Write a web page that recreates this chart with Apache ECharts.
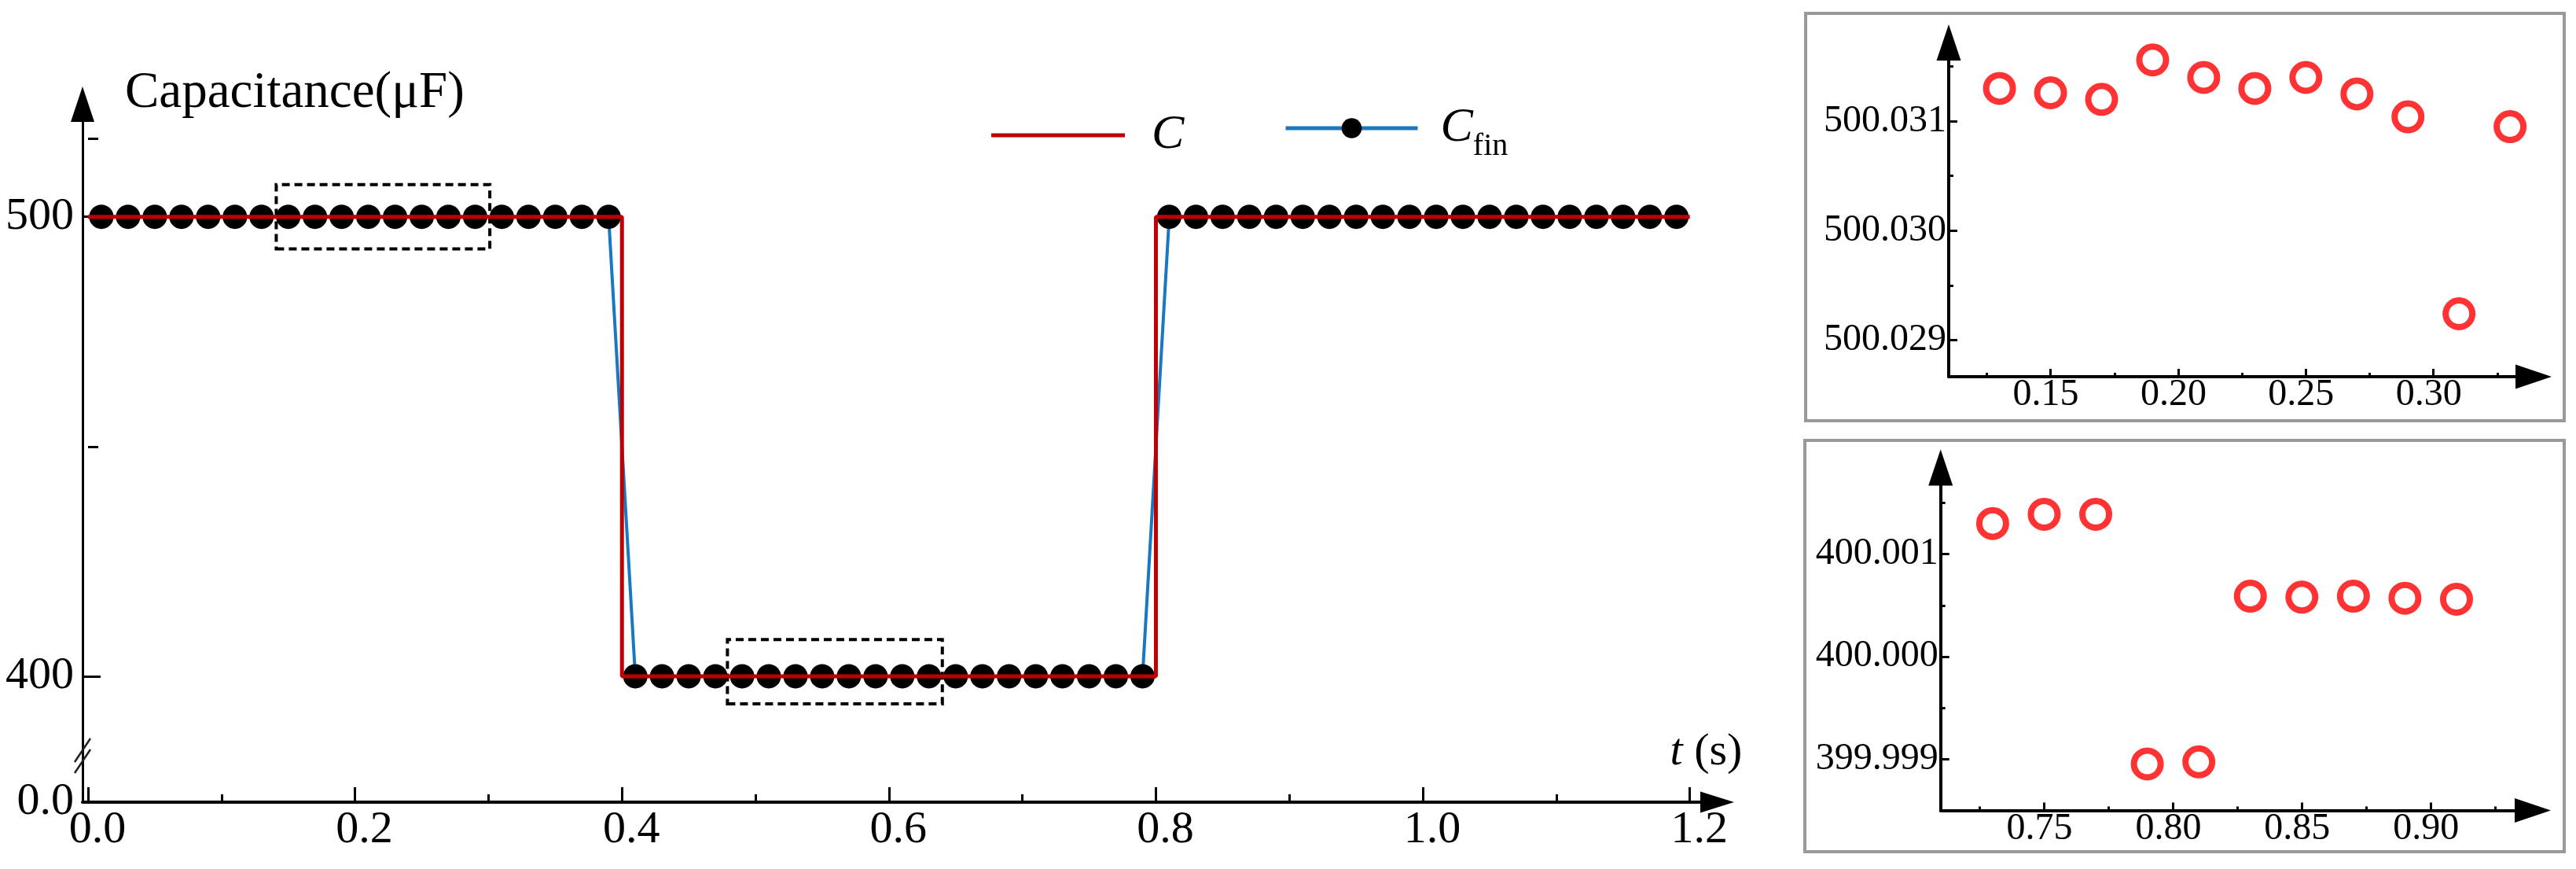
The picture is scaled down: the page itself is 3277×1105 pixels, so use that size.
<!DOCTYPE html>
<html><head><meta charset="utf-8">
<script src="https://cdn.jsdelivr.net/npm/echarts@6/dist/echarts.min.js"></script>
<style>html,body{margin:0;padding:0;background:#fff}#c{width:3277px;height:1105px}</style>
</head><body><div id="c"></div>
<script>
// ---------- main chart data ----------
const tC = [0, 0.4, 0.4, 0.8, 0.8, 1.2];
const vC = [500, 500, 400, 400, 500, 500];
const tFin = [0.01,0.03,0.05,0.07,0.09,0.11,0.13,0.15,0.17,0.19,0.21,0.23,0.25,0.27,0.29,0.31,0.33,0.35,0.37,0.39,
              0.41,0.43,0.45,0.47,0.49,0.51,0.53,0.55,0.57,0.59,0.61,0.63,0.65,0.67,0.69,0.71,0.73,0.75,0.77,0.79,
              0.81,0.83,0.85,0.87,0.89,0.91,0.93,0.95,0.97,0.99,1.01,1.03,1.05,1.07,1.09,1.11,1.13,1.15,1.17,1.19];
const vFin = [500,500,500,500,500,500,500,500,500,500,500,500,500,500,500,500,500,500,500,500,
              400,400,400,400,400,400,400,400,400,400,400,400,400,400,400,400,400,400,400,400,
              500,500,500,500,500,500,500,500,500,500,500,500,500,500,500,500,500,500,500,500];
const mainXTicks = [0, 0.2, 0.4, 0.6, 0.8, 1.0, 1.2];
const mainXLabels = ['0.0','0.2','0.4','0.6','0.8','1.0','1.2'];
const mainXMinor = [0.1, 0.3, 0.5, 0.7, 0.9, 1.1];
const mainYLabelValues = [372.6, 400, 500];
const mainYLabels = ['0.0', '400', '500'];
const mainYMajor = [400, 500];
const mainYMinor = [450, 517];
const zoomBox1 = [[0.141, 493], [0.301, 507]];
const zoomBox2 = [[0.479, 394], [0.640, 408]];
const breakMark = [[-0.00412, 382.7]];

// ---------- inset 1 ----------
const t1 = [0.13,0.15,0.17,0.19,0.21,0.23,0.25,0.27,0.29,0.31,0.33];
const v1 = [500.03130,500.03126,500.03120,500.03156,500.03140,500.03130,500.03140,500.03125,500.03104,500.02924,500.03095];
const in1XTicks = [0.15, 0.20, 0.25, 0.30];
const in1XLabels = ['0.15','0.20','0.25','0.30'];
const in1XMinor = [0.125, 0.175, 0.225, 0.275, 0.325];
const in1YTicks = [500.029, 500.030, 500.031];
const in1YLabels = ['500.029','500.030','500.031'];
const in1YMinor = [500.0295, 500.0305, 500.0315];

// ---------- inset 2 ----------
const t2 = [0.73,0.75,0.77,0.79,0.81,0.83,0.85,0.87,0.89,0.91];
const v2 = [400.00130,400.00139,400.00139,399.99895,399.99897,400.00059,400.00058,400.00059,400.00057,400.00056];
const in2XTicks = [0.75, 0.80, 0.85, 0.90];
const in2XLabels = ['0.75','0.80','0.85','0.90'];
const in2XMinor = [0.725, 0.775, 0.825, 0.875, 0.925];
const in2YTicks = [399.999, 400.000, 400.001];
const in2YLabels = ['399.999','400.000','400.001'];
const in2YMinor = [399.9995, 400.0005, 400.0015];

const FONT = 'Liberation Serif';
function lab(vals, labels) {
  return function (v) {
    for (let i = 0; i < vals.length; i++) if (Math.abs(vals[i] - v) < 1e-7) return labels[i];
    return '';
  };
}
function majorX(grid, min, max, ticks, labelVals, labels, o) {
  return {
    type: 'value', gridIndex: grid, min: min, max: max, position: 'bottom',
    splitLine: {show: false},
    axisLine: {show: true, onZero: false, lineStyle: {color: '#000', width: o.lw},
      symbol: ['none', 'triangle'], symbolSize: o.arrow},
    axisTick: {show: true, inside: true, length: o.tl, lineStyle: {color: '#000', width: 3}, customValues: ticks},
    axisLabel: {show: true, customValues: labelVals, formatter: lab(labelVals, labels),
      fontFamily: FONT, fontSize: o.fs, color: '#000', margin: o.margin, padding: o.pad}
  };
}
function majorY(grid, min, max, ticks, labelVals, labels, o) {
  return {
    type: 'value', gridIndex: grid, min: min, max: max, position: 'left',
    splitLine: {show: false},
    axisLine: {show: true, onZero: false, lineStyle: {color: '#000', width: o.lw},
      symbol: ['none', 'triangle'], symbolSize: o.arrow},
    axisTick: {show: true, inside: true, length: o.tl, lineStyle: {color: '#000', width: 3}, customValues: ticks},
    axisLabel: {show: true, customValues: labelVals, formatter: lab(labelVals, labels),
      fontFamily: FONT, fontSize: o.fs, color: '#000', margin: o.margin}
  };
}
function minorAx(grid, min, max, ticks, len, pos) {
  return {
    type: 'value', gridIndex: grid, min: min, max: max, position: pos,
    splitLine: {show: false}, axisLine: {show: false}, axisLabel: {show: false},
    axisTick: {show: true, inside: true, length: len, lineStyle: {color: '#000', width: 3}, customValues: ticks}
  };
}

const MX = [-0.00412, 1.2205], MY = [372.6, 524.5];
const I1X = [0.1101, 0.3392], I1Y = [500.028665, 500.03172];
const I2X = [0.7098, 0.9396], I2Y = [399.998497, 400.001847];

const xMain = majorX(0, MX[0], MX[1], mainXTicks, mainXTicks, mainXLabels,
  {lw: 4, arrow: [27, 43], tl: 19, fs: 58, margin: 7, pad: [0, 0, 0, 24]});
xMain.name = '{it|t} (s)';
xMain.nameLocation = 'end';
xMain.nameGap = -14;
xMain.nameTextStyle = {fontFamily: FONT, fontSize: 58, color: '#000', align: 'center', verticalAlign: 'bottom',
  padding: [0, 0, 34, 0], rich: {it: {fontFamily: FONT, fontSize: 58, fontStyle: 'italic', color: '#000'}}};
const yMain = majorY(0, MY[0], MY[1], mainYMajor, mainYLabelValues, mainYLabels,
  {lw: 3, arrow: [30, 45], tl: 23, fs: 58, margin: 11});
yMain.name = 'Capacitance(μF)';
yMain.nameLocation = 'end';
yMain.nameGap = -19;
yMain.nameTextStyle = {fontFamily: FONT, fontSize: 65, color: '#000', align: 'left', verticalAlign: 'bottom', padding: [0, 0, 0, 54]};

const option = {
  animation: false,
  backgroundColor: '#fff',
  textStyle: {fontFamily: FONT},
  grid: [
    {left: 105, top: 132.5, width: 2079.5, height: 887.5, outerBoundsMode: 'none'},
    {left: 2479, top: 54, width: 744, height: 425, outerBoundsMode: 'none'},
    {left: 2468.7, top: 594.5, width: 753.3, height: 435.9, outerBoundsMode: 'none'}
  ],
  xAxis: [
    xMain,
    minorAx(0, MX[0], MX[1], mainXMinor, 10, 'bottom'),
    majorX(1, I1X[0], I1X[1], in1XTicks, in1XTicks, in1XLabels, {lw: 4, arrow: [31, 46], tl: 10, fs: 48, margin: -1, pad: [0, 12, 0, 0]}),
    minorAx(1, I1X[0], I1X[1], in1XMinor, 5, 'bottom'),
    majorX(2, I2X[0], I2X[1], in2XTicks, in2XTicks, in2XLabels, {lw: 4, arrow: [31, 46], tl: 10, fs: 48, margin: 0, pad: [0, 12, 0, 0]}),
    minorAx(2, I2X[0], I2X[1], in2XMinor, 5, 'bottom')
  ],
  yAxis: [
    yMain,
    minorAx(0, MY[0], MY[1], mainYMinor, 13, 'left'),
    majorY(1, I1Y[0], I1Y[1], in1YTicks, in1YTicks, in1YLabels, {lw: 4, arrow: [31, 46], tl: 11, fs: 48, margin: 3}),
    minorAx(1, I1Y[0], I1Y[1], in1YMinor, 6, 'left'),
    majorY(2, I2Y[0], I2Y[1], in2YTicks, in2YTicks, in2YLabels, {lw: 4, arrow: [31, 46], tl: 11, fs: 48, margin: 3}),
    minorAx(2, I2Y[0], I2Y[1], in2YMinor, 6, 'left')
  ],
  legend: [
    {data: [{name: 'C', icon: 'rect'}], left: 1261, top: 141, itemWidth: 170, itemHeight: 5, padding: 0,
     selectedMode: false,
     textStyle: {fontFamily: FONT, fontSize: 62, fontStyle: 'italic', color: '#000', padding: [0, 0, 0, 29]}},
    {data: ['C_fin'], left: 1633, top: 132, itemWidth: 168, itemHeight: 32, padding: 0, selectedMode: false,
     formatter: '{c|C}{s|fin}', lineStyle: {width: 5},
     textStyle: {fontFamily: FONT, color: '#000', padding: [0, 0, 0, 24], rich: {
       c: {fontFamily: FONT, fontSize: 62, fontStyle: 'italic', color: '#000', padding: [12, 0, 12, 0], verticalAlign: 'middle'},
       s: {fontFamily: FONT, fontSize: 40, color: '#000', verticalAlign: 'bottom'}
     }}}
  ],
  graphic: [
    {type: 'rect', shape: {x: 2297, y: 17, width: 965, height: 518}, style: {fill: 'none', stroke: '#999', lineWidth: 4}, z: -1},
    {type: 'rect', shape: {x: 2296, y: 560, width: 966, height: 523}, style: {fill: 'none', stroke: '#999', lineWidth: 4}, z: -1}
  ],
  series: [
    {
      name: 'C_fin', type: 'line', xAxisIndex: 0, yAxisIndex: 0,
      data: tFin.map((t, i) => [t, vFin[i]]),
      symbol: 'circle', symbolSize: 31, showAllSymbol: true,
      itemStyle: {color: '#000'}, lineStyle: {color: '#1a78c2', width: 4}, z: 2,
      markArea: {
        silent: true, label: {show: false},
        itemStyle: {color: 'rgba(0,0,0,0)', borderColor: '#000', borderWidth: 4, borderType: [10, 6]},
        data: [
          [{coord: zoomBox1[0]}, {coord: zoomBox1[1]}],
          [{coord: zoomBox2[0]}, {coord: zoomBox2[1]}]
        ]
      }
    },
    {
      name: 'C', type: 'line', xAxisIndex: 0, yAxisIndex: 0,
      data: tC.map((t, i) => [t, vC[i]]),
      symbol: 'none', itemStyle: {color: '#c00000'}, lineStyle: {color: '#c00000', width: 5}, z: 3
    },
    {
      name: 'break', type: 'custom', xAxisIndex: 0, yAxisIndex: 0, data: breakMark, z: 5, silent: true,
      renderItem: function (params, api) {
        const p = api.coord([api.value(0), api.value(1)]);
        const mk = function (dy) {
          return {type: 'line', shape: {x1: p[0] - 10, y1: p[1] + dy + 15, x2: p[0] + 10, y2: p[1] + dy - 15},
            style: {stroke: '#222', lineWidth: 2.5}};
        };
        return {type: 'group', children: [mk(-7), mk(7)]};
      }
    },
    {
      name: 'inset1', type: 'scatter', xAxisIndex: 2, yAxisIndex: 2,
      data: t1.map((t, i) => [t, v1[i]]), symbol: 'circle', symbolSize: 34,
      itemStyle: {color: 'rgba(255,255,255,0)', borderColor: '#ff0000', borderWidth: 8}
    },
    {
      name: 'inset2', type: 'scatter', xAxisIndex: 4, yAxisIndex: 4,
      data: t2.map((t, i) => [t, v2[i]]), symbol: 'circle', symbolSize: 34,
      itemStyle: {color: 'rgba(255,255,255,0)', borderColor: '#ff0000', borderWidth: 8}
    }
  ]
};
const chart = echarts.init(document.getElementById('c'), null, {renderer: 'canvas'});
chart.setOption(option);
</script>
</body></html>
